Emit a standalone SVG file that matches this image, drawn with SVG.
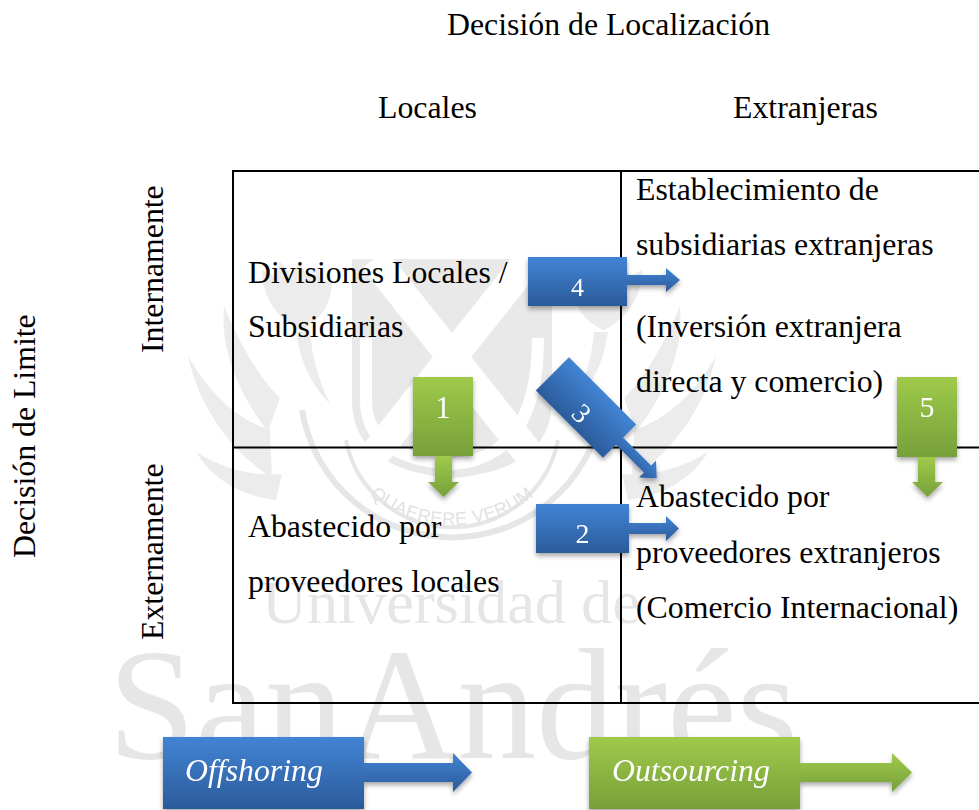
<svg xmlns="http://www.w3.org/2000/svg" width="979" height="810" viewBox="0 0 979 810">
<style>
  .t { font-family: "Liberation Serif", "Times New Roman", serif; font-size: 31.8px; fill: #000; }
  .num { font-family: "Liberation Serif", "Times New Roman", serif; fill: #fff; text-anchor: middle; }
  .lbl { font-family: "Liberation Serif", "Times New Roman", serif; font-size: 31.8px; font-style: italic; fill: #fff; }
  .grid { stroke: #000; stroke-width: 2; fill: none; }
  .blue { fill: url(#gBlue); }
  .green { fill: url(#gGreen); }
  .wm { font-family: "Liberation Serif", "Times New Roman", serif; fill: #e6e6e6; }
  .wms { font-family: "Liberation Sans", Arial, sans-serif; fill: #e2e2e2; }
  .leaf { fill: #ececec; }
  .ring { fill: none; stroke: #e6e6e6; }
</style>
<defs>
  <linearGradient id="gBlue" x1="0" y1="0" x2="0" y2="1">
    <stop offset="0" stop-color="#4284d4"/>
    <stop offset="1" stop-color="#2b5b9b"/>
  </linearGradient>
  <linearGradient id="gGreen" x1="0" y1="0" x2="0" y2="1">
    <stop offset="0" stop-color="#9fca4a"/>
    <stop offset="1" stop-color="#77a03a"/>
  </linearGradient>
  <filter id="sh" x="-20%" y="-20%" width="140%" height="150%">
    <feDropShadow dx="0" dy="3" stdDeviation="2.5" flood-color="#000" flood-opacity="0.35"/>
  </filter>
  <path id="ringText" d="M322,395 A130,130 0 0 0 582,395"/>
  <g id="thistle">
    <path class="leaf" d="M272,478 C232,452 200,410 188,356 C212,398 240,420 270,430 Z"/>
    <path class="leaf" d="M268,432 C238,392 220,350 224,306 C242,348 258,376 280,398 Z"/>
    <path class="leaf" d="M276,500 C240,496 212,478 196,452 C226,470 252,476 282,474 Z"/>
    <path class="leaf" d="M300,330 C276,318 262,296 262,270 L274,276 L280,262 L290,274 L300,262 L306,276 L318,266 L320,282 L332,280 C332,304 320,322 300,330 Z"/>
    <path class="leaf" d="M296,332 C300,360 310,384 330,404 C318,378 312,356 310,332 Z"/>
  </g>
</defs>
<rect width="979" height="810" fill="#fff"/>

<!-- watermark -->
<g id="watermark">
  <use href="#thistle"/>
  <use href="#thistle" transform="translate(904,0) scale(-1,1)"/>
  <path d="M352,259 H552 V400 Q552,470 452,478 Q352,470 352,400 Z" fill="#e9e9e9"/>
  <g stroke="#fff" stroke-width="30" stroke-linecap="butt">
    <line x1="374" y1="259" x2="530" y2="455"/>
    <line x1="530" y1="259" x2="374" y2="455"/>
  </g>
  <path d="M366,338 V400 Q366,458 452,464 Q538,458 538,338" fill="none" stroke="#fff" stroke-width="12"/>
  <path class="ring" stroke-width="6" d="M302,410 A152,152 0 0 0 602,410"/>
  <path class="ring" stroke-width="4" d="M346,440 A108,108 0 0 0 558,440"/>
  <text class="wms" font-size="18" letter-spacing="0.5"><textPath href="#ringText" startOffset="50%" text-anchor="middle">QUAERERE VERUM</textPath></text>
  <text class="wm" x="262" y="623" font-size="62" textLength="378" lengthAdjust="spacingAndGlyphs">Universidad de</text>
  <text class="wm" x="108" y="758" font-size="158" textLength="690" lengthAdjust="spacingAndGlyphs">SanAndrés</text>
</g>

<!-- headers -->
<g id="headers">
  <text class="t" x="447" y="35">Decisión de Localización</text>
  <text class="t" x="378" y="118">Locales</text>
  <text class="t" x="733" y="118">Extranjeras</text>
  <text class="t" transform="translate(34.5,558) rotate(-90)">Decisión de Limite</text>
  <text class="t" transform="translate(162.5,353) rotate(-90)">Internamente</text>
  <text class="t" transform="translate(162.5,640) rotate(-90)">Externamente</text>
</g>

<!-- grid -->
<g id="connectors">
  <path class="grid" d="M979,171 H233 V703 H979 M621,171 V703 M233,447.5 H979"/>
</g>

<!-- cells -->
<g id="cell-internal-local">
  <text class="t" x="248" y="283">Divisiones Locales /</text>
  <text class="t" x="248" y="337">Subsidiarias</text>
</g>
<g id="cell-internal-foreign">
  <text class="t" x="636" y="200">Establecimiento de</text>
  <text class="t" x="636" y="255">subsidiarias extranjeras</text>
  <text class="t" x="636" y="337">(Inversión extranjera</text>
  <text class="t" x="636" y="392">directa y comercio)</text>
</g>
<g id="cell-external-local">
  <text class="t" x="248" y="537">Abastecido por</text>
  <text class="t" x="248" y="592">proveedores locales</text>
</g>
<g id="cell-external-foreign">
  <text class="t" x="636" y="507">Abastecido por</text>
  <text class="t" x="636" y="563">proveedores extranjeros</text>
  <text class="t" x="636" y="618">(Comercio Internacional)</text>
</g>

<!-- numbered callouts -->
<g id="arrow-4" filter="url(#sh)">
  <path class="blue" d="M627,275 H666 V268 L680,280 L666,292 V285 H627 Z"/>
  <rect class="blue" x="528" y="257" width="99" height="49"/>
  <text class="num" x="577.5" y="295.5" font-size="26">4</text>
</g>
<g id="arrow-2" filter="url(#sh)">
  <path class="blue" d="M629,523 H666 V516 L679,528.5 L666,541 V534 H629 Z"/>
  <rect class="blue" x="536" y="504" width="93" height="49"/>
  <text class="num" x="582.5" y="543" font-size="28">2</text>
</g>
<g id="arrow-3" filter="url(#sh)">
  <g transform="translate(586,407.5) rotate(45)">
    <path class="blue" d="M47,-5 H87 V-12 L100,0 L87,12 V5 H47 Z"/>
    <rect class="blue" x="-47.5" y="-23.5" width="95" height="47"/>
    <text class="num" x="1" y="16.5" font-size="28">3</text>
  </g>
</g>
<g id="arrow-1" filter="url(#sh)">
  <path class="green" d="M435,456 V482 H428 L443.5,497 L459,482 H452 V456 Z"/>
  <rect class="green" x="413" y="377" width="60" height="79"/>
  <text class="num" x="443" y="418" font-size="31">1</text>
</g>
<g id="arrow-5" filter="url(#sh)">
  <path class="green" d="M918,457 V482 H912 L927.5,497 L943,482 H935 V457 Z"/>
  <rect class="green" x="897" y="377" width="60" height="80"/>
  <text class="num" x="927" y="417" font-size="30">5</text>
</g>

<!-- legend -->
<g id="legend-offshoring" filter="url(#sh)">
  <path class="blue" d="M364,763 H453 V753 L472,772.5 L453,792 V782 H364 Z"/>
  <rect class="blue" x="163" y="737" width="201" height="72"/>
  <text class="lbl" x="185" y="781">Offshoring</text>
</g>
<g id="legend-outsourcing" filter="url(#sh)">
  <path class="green" d="M800,763 H892 V753 L912,772.5 L892,792 V782 H800 Z"/>
  <rect class="green" x="589" y="737" width="211" height="72"/>
  <text class="lbl" x="612" y="781">Outsourcing</text>
</g>
</svg>
